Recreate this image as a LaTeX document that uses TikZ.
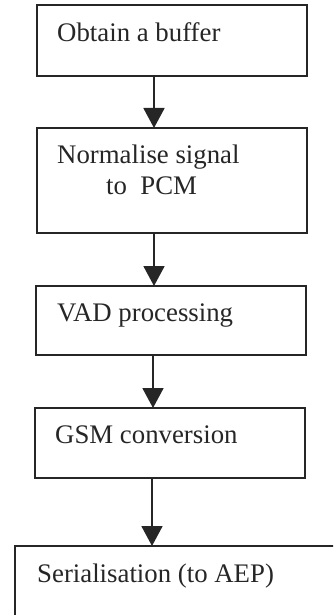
\documentclass[tikz,border=0pt]{standalone}
\usepackage{fontspec}
\setmainfont{Liberation Serif}
\usetikzlibrary{arrows.meta}
\begin{document}
\begin{tikzpicture}[x=1pt,y=-1pt,
  stepbox/.style={draw=black!85,line width=1.8pt,rectangle,inner sep=0pt,outer sep=0pt,minimum width=270pt},
  lbl/.style={anchor=base west,inner sep=0pt,font=\fontsize{26.8}{31}\selectfont,text=black!85},
  arr/.style={draw=black!85,line width=1.8pt,-{Triangle[length=20pt,width=21pt]}}]
\useasboundingbox (0,0) rectangle (333,615);
\clip (0,0) rectangle (333,615);
\node[stepbox,minimum height=71pt] (b1) at (172,40.5) {};
\node[stepbox,minimum height=105pt] (b2) at (172,180.5) {};
\node[stepbox,minimum height=69pt] (b3) at (171,320.5) {};
\node[stepbox,minimum height=70pt] (b4) at (170,443) {};
\node[stepbox,minimum width=325pt,minimum height=79pt] (b5) at (177.5,585.5) {};
\node[lbl] (t1) at (57,42) {Obtain a buffer};
\node[lbl] (t2a) at (57,163) {Normalise signal};
\node[lbl] (t2b) at (106,194) {to\ \ PCM};
\node[lbl] (t3) at (57,321.5) {VAD processing};
\node[lbl] (t4) at (55,443) {GSM conversion};
\node[lbl] (t5) at (37,582) {Serialisation (to AEP)};
\draw[arr] ([xshift=117pt]b1.south west) -- ([xshift=117pt]b1.south west |- b2.north);
\draw[arr] ([xshift=117pt]b2.south west) -- ([xshift=117pt]b2.south west |- b3.north);
\draw[arr] ([xshift=117pt]b3.south west) -- ([xshift=117pt]b3.south west |- b4.north);
\draw[arr] ([xshift=117pt]b4.south west) -- ([xshift=117pt]b4.south west |- b5.north);
\end{tikzpicture}
\end{document}
